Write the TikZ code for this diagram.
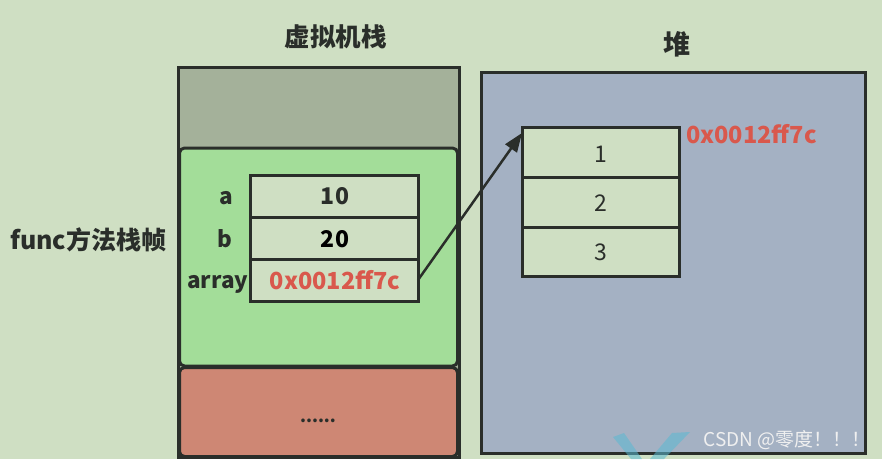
\documentclass[tikz,border=0pt]{standalone}
\usepackage{fontspec}
\setmainfont{Noto Sans CJK SC}
\usetikzlibrary{arrows.meta}
\definecolor{bgc}{RGB}{207,223,195}
\definecolor{grayc}{RGB}{164,177,154}
\definecolor{greenc}{RGB}{163,221,153}
\definecolor{redc}{RGB}{206,135,116}
\definecolor{heapc}{RGB}{164,177,195}
\definecolor{cellc}{RGB}{207,223,195}
\definecolor{darkc}{RGB}{42,46,42}
\definecolor{addrc}{RGB}{217,88,76}
\definecolor{tealc}{RGB}{90,185,210}
\tikzset{
  box/.style={draw=darkc, line width=3pt, inner sep=0pt, outer sep=0pt},
  lbl/.style={font=\fontsize{22.5}{22.5}\selectfont\bfseries, text=darkc, inner sep=0pt, anchor=base east},
  val/.style={font=\fontsize{23}{23}\selectfont\bfseries, text=darkc, inner sep=0pt, anchor=base},
  num/.style={font=\fontsize{23}{23}\selectfont, text=darkc, inner sep=0pt, anchor=base},
  addr/.style={font=\fontsize{23.5}{23.5}\selectfont\bfseries, text=addrc, inner sep=0pt},
  title/.style={font=\fontsize{25.5}{25.5}\selectfont\bfseries, text=darkc, inner sep=0pt},
}
\begin{document}
\begin{tikzpicture}[x=1pt,y=-1pt]
\useasboundingbox (0,0) rectangle (882,459);
\fill[bgc] (0,0) rectangle (882,459);
% stack
\node[box, fill=grayc, minimum width=281pt, minimum height=390pt] (stack) at (318.5,262) {};
\node[box, fill=greenc, rounded corners=5pt, minimum width=278pt, minimum height=218pt] (frame) at (318.5,257) {};
\node[box, fill=redc, rounded corners=5pt, minimum width=278pt, minimum height=89pt] (other) at (318.5,412) {};
\node[font=\fontsize{17}{17}\selectfont\bfseries, text=darkc, inner sep=0pt, anchor=base] (dots) at (318,422) {......};
\node[title] (stitle) at (335.5,37) {虚拟机栈};
% heap
\node[box, fill=heapc, minimum width=384pt, minimum height=381pt] (heap) at (673,262.5) {};
\node[title, font=\fontsize{27}{27}\selectfont\bfseries] (htitle) at (676.5,44.5) {堆};
% stack cells
\node[box, fill=cellc, minimum width=168pt, minimum height=42pt] (ca) at (334,196) {};
\node[box, fill=cellc, minimum width=168pt, minimum height=42pt] (cb) at (334,238) {};
\node[box, fill=cellc, minimum width=168pt, minimum height=42pt] (cc) at (334,280) {};
\node[val] (va) at (335,204) {10};
\node[val, text=black] (vb) at (335,247) {20};
\node[addr, anchor=base] (vc) at (335,289) {0x0012ff7c};
\node[lbl] (la) at (233,204) {a};
\node[lbl] (lb) at (233,247) {b};
\node[lbl] (lc) at (248.5,288) {array};
\node[font=\fontsize{25}{25}\selectfont\bfseries, text=darkc, inner sep=0pt, anchor=west] (ftitle) at (10,240) {func方法栈帧};
% heap cells
\node[box, fill=cellc, minimum width=157pt, minimum height=50pt] (h1) at (600.5,152) {};
\node[box, fill=cellc, minimum width=157pt, minimum height=50pt] (h2) at (600.5,202) {};
\node[box, fill=cellc, minimum width=157pt, minimum height=49pt] (h3) at (600.5,251.5) {};
\node[num] (n1) at (600.5,162) {1};
\node[num] (n2) at (600.5,211) {2};
\node[num] (n3) at (600.5,260) {3};
\node[addr, anchor=base west] (haddr) at (686,143) {0x0012ff7c};
% arrow
\coordinate (tip) at (522,133);
\draw[darkc, line width=2.5pt, -{Triangle[length=19pt,width=14pt]}] (cc.east) -- (tip);
% watermark
\fill[tealc, opacity=0.55] (613,437) -- (624,433) -- (642,459) -- (631,459) -- cycle;
\fill[tealc, opacity=0.55] (650,459) -- (672,433) -- (690,432) -- (664,459) -- cycle;
\node[font=\fontsize{19}{19}\selectfont, text=gray!12, inner sep=0pt, anchor=base east] (wm) at (871,446) {CSDN @零度！！！};
\end{tikzpicture}
\end{document}
